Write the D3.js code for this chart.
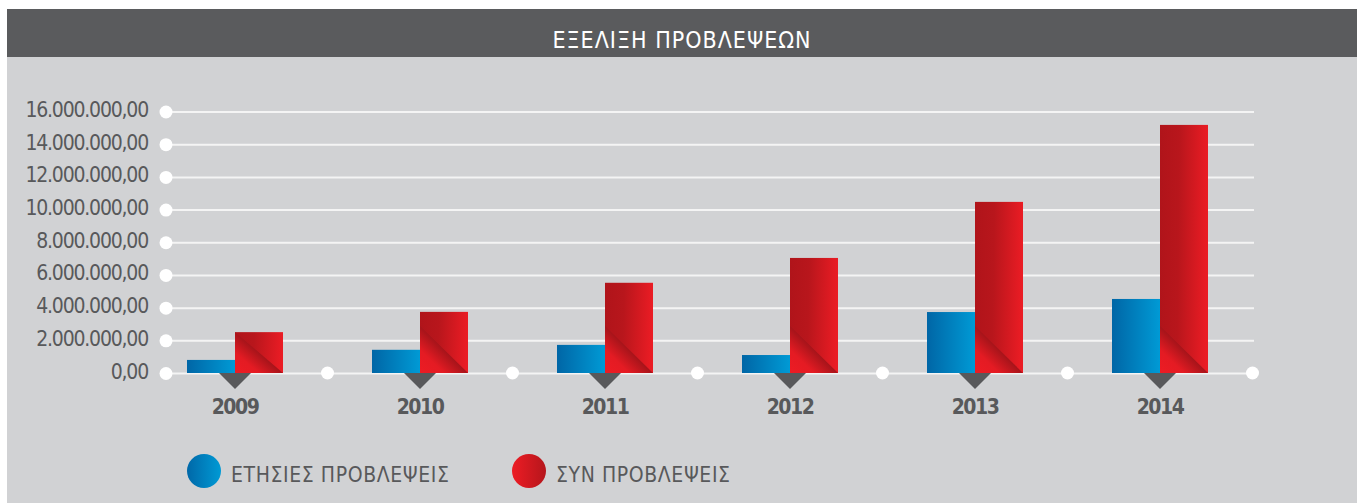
<!DOCTYPE html>
<html lang="el">
  <head>
    <meta charset="UTF-8" />
    <title>ΕΞΕΛΙΞΗ ΠΡΟΒΛΕΨΕΩΝ</title>
    <script src="https://d3js.org/d3.v7.min.js"></script>
    <style>
      body { margin: 0; background: #ffffff; }
      svg { display: block; }
      .narrow { font-family: "Liberation Sans Narrow", "DejaVu Sans Condensed", sans-serif; }
      .y-axis text { font-size: 21px; fill: #58595b; letter-spacing: -1.2px; }
      .x-axis text { font-size: 21px; font-weight: bold; fill: #58595b; letter-spacing: -1.5px; }
      .legend-label { font-size: 21px; fill: #58595b; letter-spacing: 0.6px; }
      .title { font-size: 23px; fill: #ffffff; letter-spacing: 1px; }
    </style>
  </head>
  <body>
    <svg id="chart" width="1363" height="503"></svg>
    <script>
      // data
      const years = ["2009", "2010", "2011", "2012", "2013", "2014"];
      const annual = [800000, 1420000, 1720000, 1100000, 3730000, 4530000];
      const cumulative = [2500000, 3740000, 5520000, 7040000, 10470000, 15180000];
      const yTicks = [0, 2000000, 4000000, 6000000, 8000000, 10000000, 12000000, 14000000, 16000000];
      const seriesNames = ["ΕΤΗΣΙΕΣ ΠΡΟΒΛΕΨΕΙΣ", "ΣΥΝ ΠΡΟΒΛΕΨΕΙΣ"];
      const chartTitle = "ΕΞΕΛΙΞΗ ΠΡΟΒΛΕΨΕΩΝ";

      const svg = d3.select("#chart");
      const gridLeft = 166, gridRight = 1254;
      const barW = 48;

      const greek = d3.formatLocale({ decimal: ",", thousands: ".", grouping: [3], currency: ["", "€"] });
      const fmt = greek.format(",.2f");

      const x = d3.scaleBand().domain(years).range([142.5, 1252.5]).padding(0);
      const y = d3.scaleLinear().domain([0, 16000000]).range([373, 111.5]);

      // gradients
      const defs = svg.append("defs");
      function linGrad(id, stops, x1, y1, x2, y2) {
        const g = defs.append("linearGradient").attr("id", id)
          .attr("x1", x1).attr("y1", y1).attr("x2", x2).attr("y2", y2);
        stops.forEach(s => g.append("stop").attr("offset", s[0]).attr("stop-color", s[1]));
      }
      linGrad("blueGrad", [[0, "#0066a6"], [1, "#009ad5"]], 0, 0, 1, 0);
      linGrad("redGrad", [[0, "#b0141a"], [0.4, "#b8161c"], [1, "#ea1c24"]], 0, 0, 1, 0.05);
      linGrad("foldGrad", [[0, "#ed1c24"], [0.5, "#e41b23"], [1, "#a6141a"]], 0, 1, 0.5, 0.5);
      linGrad("legBlue", [[0, "#0068a8"], [1, "#009ad5"]], 0, 0, 1, 0);
      linGrad("legRed", [[0, "#ed1c24"], [1, "#b5161c"]], 0, 0, 1, 0);

      // background panels
      svg.append("rect").attr("x", 7).attr("y", 56).attr("width", 1350).attr("height", 447).attr("fill", "#d1d2d4");
      svg.append("rect").attr("x", 7).attr("y", 9).attr("width", 1350).attr("height", 48).attr("fill", "#5a5b5d");
      svg.append("text").attr("class", "title narrow")
        .attr("x", 682).attr("y", 48).attr("text-anchor", "middle")
        .text(chartTitle);

      // y axis with gridlines
      const yAxis = svg.append("g").attr("class", "y-axis narrow")
        .attr("transform", `translate(${gridLeft},0)`)
        .call(d3.axisLeft(y).tickValues(yTicks).tickFormat(fmt)
          .tickSize(-(gridRight - gridLeft)).tickPadding(18));
      yAxis.select(".domain").remove();
      yAxis.selectAll(".tick line").attr("stroke", "#f4f4f4").attr("stroke-width", 2);
      yAxis.selectAll(".tick text").attr("dy", "5").attr("font-family", null).attr("font-size", null);
      yAxis.selectAll(".tick").append("circle").attr("r", 6.5).attr("fill", "#ffffff");

      // bars
      const groups = svg.append("g").selectAll("g").data(years).join("g");
      const cx = d => x(d) + x.bandwidth() / 2;

      groups.append("path")
        .attr("d", d => `M${cx(d) - 16},373 L${cx(d) + 16},373 L${cx(d)},389 Z`)
        .attr("fill", "#58595b");

      groups.append("rect")
        .attr("x", d => cx(d) - barW)
        .attr("y", (d, i) => y(annual[i]))
        .attr("width", barW)
        .attr("height", (d, i) => y(0) - y(annual[i]))
        .attr("fill", "url(#blueGrad)");

      groups.append("rect")
        .attr("x", d => cx(d))
        .attr("y", (d, i) => y(cumulative[i]))
        .attr("width", barW)
        .attr("height", (d, i) => y(0) - y(cumulative[i]))
        .attr("fill", "url(#redGrad)");

      groups.append("path")
        .attr("d", (d, i) => {
          const h = Math.min(y(0) - y(cumulative[i]), 47);
          const x0 = cx(d), b = y(0);
          return `M${x0},${b - h} L${x0},${b} L${x0 + barW},${b} Z`;
        })
        .attr("fill", "url(#foldGrad)");

      // separator dots on the base line
      svg.append("g").selectAll("circle").data(years).join("circle")
        .attr("cx", d => x(d) + x.bandwidth())
        .attr("cy", y(0))
        .attr("r", 6.5)
        .attr("fill", "#ffffff");

      // x axis labels
      const xAxis = svg.append("g").attr("class", "x-axis narrow")
        .attr("transform", `translate(0,${y(0)})`)
        .call(d3.axisBottom(x).tickSize(0));
      xAxis.select(".domain").remove();
      xAxis.selectAll(".tick text").attr("y", 41).attr("dy", 0).attr("font-family", null).attr("font-size", null);

      // legend
      const legendX = [204, 529];
      const legendFill = ["url(#legBlue)", "url(#legRed)"];
      const legend = svg.append("g").selectAll("g").data(seriesNames).join("g")
        .attr("transform", (d, i) => `translate(${legendX[i]},471)`);
      legend.append("circle").attr("r", 17).attr("fill", (d, i) => legendFill[i]);
      legend.append("text").attr("class", "legend-label narrow")
        .attr("x", 27).attr("y", 11)
        .text(d => d);
    </script>
  </body>
</html>
